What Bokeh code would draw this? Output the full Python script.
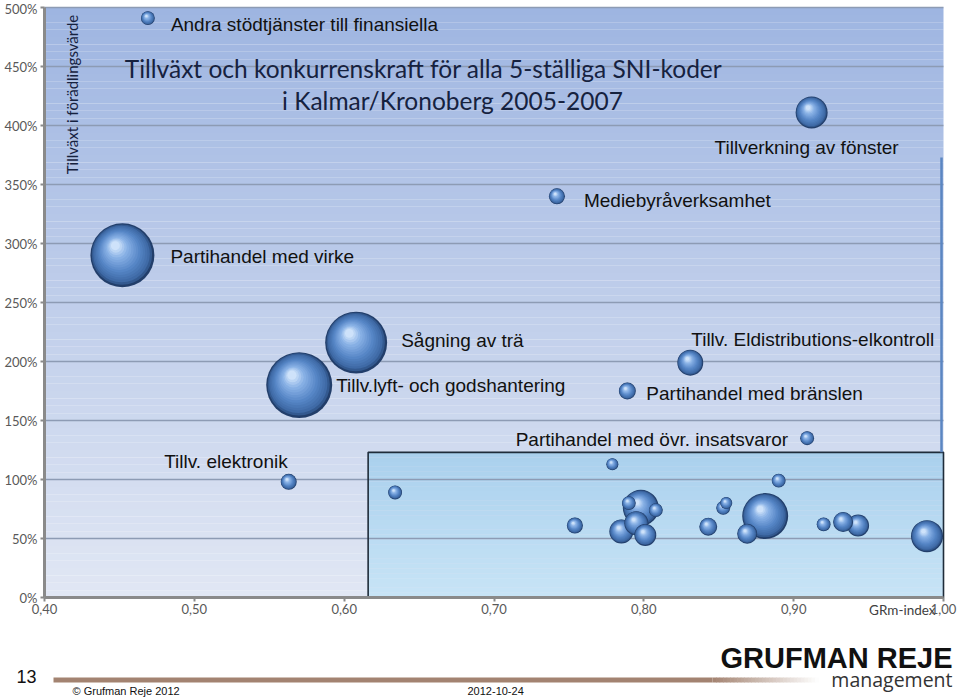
import numpy as np
from bokeh.plotting import figure
from bokeh.models import (Range1d, FixedTicker, CustomJSTickFormatter,
                          ColumnDataSource)
from bokeh.core.properties import value
from bokeh.embed import file_html
from bokeh.resources import INLINE

# ---------------- data ----------------
# labelled industries: GRm-index (x), growth in value added in % (y), bubble size
named_labels = [
    "Andra stödtjänster till finansiella",
    "Tillverkning av fönster",
    "Mediebyråverksamhet",
    "Partihandel med virke",
    "Sågning av trä",
    "Tillv.lyft- och godshantering",
    "Tillv. Eldistributions-elkontroll",
    "Partihandel med bränslen",
    "Partihandel med övr. insatsvaror",
    "Tillv. elektronik",
]
named_x = [0.469, 0.912, 0.742, 0.452, 0.608, 0.570, 0.831, 0.789, 0.909, 0.563]
named_y = [491, 411, 340, 290, 216, 180, 199, 175, 135, 98]
named_size = [12, 64, 16, 256, 240, 272, 42, 18, 12, 16]

# unlabelled industries
other_x = [0.779, 0.634, 0.754, 0.798, 0.790, 0.808, 0.785, 0.801, 0.795,
           0.843, 0.853, 0.855, 0.881, 0.869, 0.890, 0.920, 0.933, 0.943, 0.989]
other_y = [113, 89, 61, 76, 80, 74, 56, 53, 63,
           60, 76, 80, 69, 54, 99, 62, 64, 61, 52]
other_size = [9, 12, 16, 81, 12, 12, 36, 30, 36,
              20, 12, 9, 132, 25, 12, 12, 25, 30, 64]

# highlighted region (x from, y up to)
box_x0 = 0.616
box_y1 = 123

x_ticks = [0.40, 0.50, 0.60, 0.70, 0.80, 0.90, 1.00]
x_tick_labels = ["0,40", "0,50", "0,60", "0,70", "0,80", "0,90", "1,00"]
y_ticks = [0, 50, 100, 150, 200, 250, 300, 350, 400, 450, 500]
y_tick_labels = ["0%", "50%", "100%", "150%", "200%", "250%", "300%", "350%",
                 "400%", "450%", "500%"]

title_lines = ["Tillväxt och konkurrenskraft för alla 5-ställiga SNI-koder",
               "i Kalmar/Kronoberg 2005-2007"]
y_title = "Tillväxt i förädlingsvärde"
x_title = "GRm-index"
slide_number = "13"
footer_left = "© Grufman Reje 2012"
footer_date = "2012-10-24"
logo_main = "GRUFMAN REJE"
logo_sub = "management"

# ---------------- layout / style ----------------
W, H = 960, 697
PL, PR, PT, PB = 44, 943, 7, 597          # plot-area edges on the page (px)
X0, X1, Y0, Y1 = 0.40, 1.00, 0, 500
PX_X = (PR - PL) / (X1 - X0)
PX_Y = (PB - PT) / (Y1 - Y0)


def page_x(px):
    return X0 + (px - PL) / PX_X


def page_y(py):
    return Y0 + (PB - py) / PX_Y


# label offsets in screen px (dx right, dy down) and alignment
label_dx = [23, -5, 27, 48, 45, 37, 1, 19, -19, -1]
label_dy = [6, 35, 4, 1, -2, 0, -23, 2, 1, -20]
label_align = ["left", "center", "left", "left", "left", "left", "left",
               "left", "right", "right"]

p = figure(width=W, height=H, output_backend="svg", toolbar_location=None,
           x_range=Range1d(page_x(0), page_x(W)), y_range=Range1d(page_y(H), page_y(0)),
           min_border=0, min_border_left=0, min_border_right=0, min_border_top=0,
           min_border_bottom=0)
p.outline_line_color = None
p.background_fill_color = "white"
p.border_fill_color = "white"
p.xgrid.visible = False
p.ygrid.visible = False


def lerp(c0, c1, t):
    return "#%02x%02x%02x" % tuple(int(round(a + (b - a) * t)) for a, b in zip(c0, c1))


# background gradient of the plot area
nb = 80
edges = np.linspace(Y0, Y1, nb + 1)
bg_top, bg_bot = (158, 181, 225), (225, 231, 244)
p.quad(left=X0, right=X1, bottom=edges[:-1], top=edges[1:],
       fill_color=[lerp(bg_bot, bg_top, (i + 0.5) / nb) for i in range(nb)],
       line_color=None)

# highlighted box gradient
nbb = 30
bedges = np.linspace(0, box_y1, nbb + 1)
bx_top, bx_bot = (170, 208, 237), (199, 228, 246)
p.quad(left=box_x0, right=X1, bottom=bedges[:-1], top=bedges[1:],
       fill_color=[lerp(bx_bot, bx_top, (i + 0.5) / nbb) for i in range(nbb)],
       line_color=None)

# grid lines
gy = y_ticks[1:]
p.segment(x0=[X0] * len(gy), x1=[X1] * len(gy), y0=gy, y1=gy,
          line_color="#8d9bb4", line_width=1.4)

# box outline and right blue line
p.quad(left=box_x0, right=X1, bottom=0, top=box_y1, fill_color=None,
       line_color="#1f2c3a", line_width=1.6)
p.segment(x0=[X1 - 2 / PX_X], x1=[X1 - 2 / PX_X], y0=[box_y1], y1=[page_y(157)],
          line_color="#5b86c2", line_width=2.5)

# axis lines
p.segment(x0=[X0, X0], x1=[X1, X0], y0=[Y0, Y0], y1=[Y0, Y1],
          line_color="#8a8a8a", line_width=3)

# bubbles: shaded spheres built from layered circles
all_x = named_x + other_x
all_y = named_y + other_y
all_s = named_size + other_size
stops = [(0.0, (34, 62, 106)), (0.10, (60, 102, 162)), (0.40, (86, 134, 198)),
         (0.76, (138, 178, 230)), (1.0, (206, 226, 250))]


def sphere_col(t):
    for (t0, c0), (t1, c1) in zip(stops[:-1], stops[1:]):
        if t <= t1:
            return lerp(c0, c1, (t - t0) / (t1 - t0))
    return lerp(stops[-1][1], stops[-1][1], 0)


NL = 16
bxs, bys, bsz, bcl = [], [], [], []
for i in np.argsort(-np.array(all_s), kind="stable"):
    r = 2.0 * np.sqrt(all_s[i])
    for k in range(NL):
        t = k / (NL - 1)
        rr = r * (1 - 0.86 * t)
        dx = -0.22 * r * t
        dy = 0.30 * r * t
        bxs.append(all_x[i] + dx / PX_X)
        bys.append(all_y[i] + dy / PX_Y)
        bsz.append(2 * rr)
        bcl.append(sphere_col(t))
p.scatter(x="x", y="y", size="s", fill_color="c", line_color=None,
          source=ColumnDataSource(dict(x=bxs, y=bys, s=bsz, c=bcl)))

# bubble labels
for al in ["left", "center", "right"]:
    idx = [i for i in range(len(named_labels)) if label_align[i] == al]
    p.text(x=[named_x[i] for i in idx], y=[named_y[i] for i in idx],
           text=[named_labels[i] for i in idx],
           x_offset=[label_dx[i] for i in idx], y_offset=[label_dy[i] for i in idx],
           text_align=al, text_baseline="middle",
           text_font=value("Liberation Sans"), text_font_size="19px",
           text_color="#111111")

# title inside plot
p.text(x=[page_x(423), page_x(452)], y=[page_y(68), page_y(100)], text=title_lines,
       text_align="center", text_baseline="middle",
       text_font=value("Lato"), text_font_size="24.5px", text_color="#16223f")
# y title inside plot
p.text(x=[page_x(71)], y=[page_y(94)], text=[y_title], angle=np.pi / 2,
       text_align="center", text_baseline="middle",
       text_font=value("Lato"), text_font_size="15px", text_color="#16223f")
# x title
p.text(x=[page_x(935)], y=[page_y(609)], text=[x_title],
       text_align="right", text_baseline="middle",
       text_font=value("Lato"), text_font_size="13.5px", text_color="#404040")

# axes (ticks and labels), fixed at the plot-area edges
fmt_code = """
let best = 0, d = 1e9;
for (let i = 0; i < tvals.length; i++) {
  const e = Math.abs(tvals[i] - tick);
  if (e < d) { d = e; best = i; }
}
return tlabels[best];
"""
p.xaxis.fixed_location = Y0
p.yaxis.fixed_location = X0
p.xaxis.ticker = FixedTicker(ticks=x_ticks)
p.xaxis.formatter = CustomJSTickFormatter(args=dict(tvals=x_ticks, tlabels=x_tick_labels), code=fmt_code)
p.xaxis.major_label_standoff = 2
p.yaxis.ticker = FixedTicker(ticks=y_ticks)
p.yaxis.formatter = CustomJSTickFormatter(args=dict(tvals=y_ticks, tlabels=y_tick_labels), code=fmt_code)
p.yaxis.major_label_standoff = 3
for ax in (p.xaxis[0], p.yaxis[0]):
    ax.axis_line_color = None
    ax.major_tick_line_color = "#8a8a8a"
    ax.major_tick_line_width = 2
    ax.major_tick_in = 0
    ax.major_tick_out = 4
    ax.minor_tick_line_color = None
    ax.major_label_text_font = "Lato"
    ax.major_label_text_font_size = "13px"
    ax.major_label_text_color = "#595959"

# ---------------- footer (below the chart) ----------------
brown = (163, 131, 113)
p.quad(left=[page_x(53)], right=[page_x(712)], top=[page_y(677)], bottom=[page_y(682)],
       fill_color=lerp(brown, brown, 0), line_color=None)
nf = 30
fe = np.linspace(712, 818, nf + 1)
p.quad(left=[page_x(v) for v in fe[:-1]], right=[page_x(v + 0.6) for v in fe[1:]],
       top=page_y(677), bottom=page_y(682),
       fill_color=[lerp(brown, (255, 255, 255), (i + 0.5) / nf) for i in range(nf)],
       line_color=None)

p.text(x=[page_x(16)], y=[page_y(676)], text=[slide_number], text_baseline="middle",
       text_font=value("Liberation Sans"), text_font_size="18px", text_color="#111111")
p.text(x=[page_x(72), page_x(467)], y=[page_y(690), page_y(690)],
       text=[footer_left, footer_date], text_baseline="middle",
       text_font=value("Liberation Sans"), text_font_size="11px", text_color="#111111")
p.text(x=[page_x(952)], y=[page_y(657)], text=[logo_main], text_align="right",
       text_baseline="middle", text_font=value("Liberation Sans"),
       text_font_style="bold", text_font_size="29px", text_color="#111111")
p.text(x=[page_x(952)], y=[page_y(679)], text=[logo_sub], text_align="right",
       text_baseline="middle", text_font=value("Open Sans"),
       text_font_size="19.5px", text_color="#333333")

open("out.html", "w").write(file_html(p, INLINE))
